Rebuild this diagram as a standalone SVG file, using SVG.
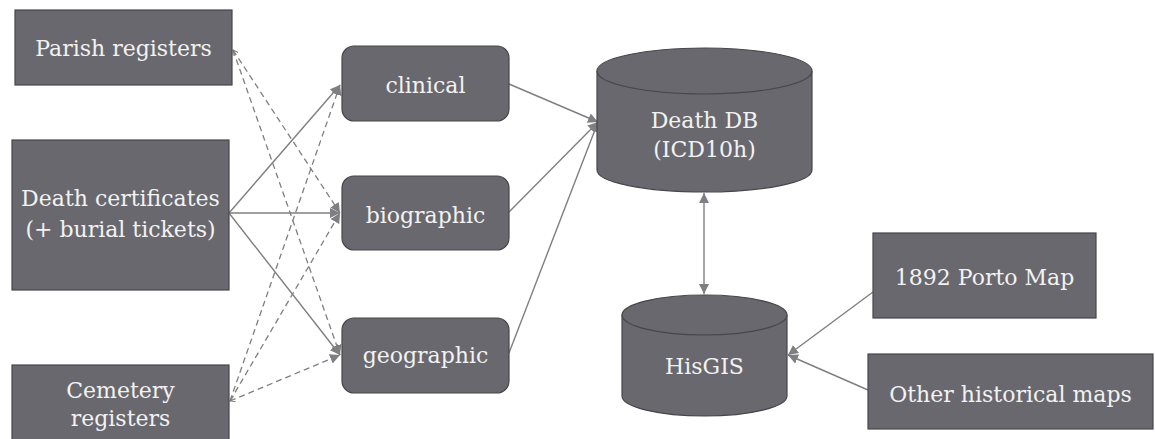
<svg xmlns="http://www.w3.org/2000/svg" width="1155" height="439" viewBox="0 0 1155 439">
<style>
.box{fill:#69686e;stroke:#47464b;stroke-width:1.2}
.t{font-family:"DejaVu Serif","Liberation Serif",serif;font-size:22px;fill:#f2f2f2;text-anchor:middle}
.c{fill:none;stroke:#7f7f83;stroke-width:1.4}
.d{fill:none;stroke:#7f7f83;stroke-width:1.3;stroke-dasharray:6 4}
</style>
<defs>
<marker id="ah" markerUnits="userSpaceOnUse" markerWidth="12" markerHeight="10" refX="10" refY="5" orient="auto-start-reverse">
<path d="M0,0 L10,5 L0,10 Z" fill="#7f7f83"/>
</marker>
<marker id="sm" markerUnits="userSpaceOnUse" markerWidth="6" markerHeight="6" refX="5" refY="3" orient="auto-start-reverse">
<path d="M0,0 L5,3 L0,6" fill="none" stroke="#7f7f83" stroke-width="1"/>
</marker>
</defs>
<rect width="1155" height="439" fill="#ffffff"/>
<g id="connectors">
<line class="c" x1="229" y1="213" x2="340" y2="85" marker-end="url(#ah)"/>
<line class="c" x1="229" y1="213" x2="340" y2="213" marker-end="url(#ah)"/>
<line class="c" x1="229" y1="213" x2="340" y2="355" marker-end="url(#ah)"/>
<line class="d" x1="233" y1="50" x2="340" y2="213" marker-start="url(#sm)" marker-end="url(#ah)"/>
<line class="d" x1="233" y1="50" x2="340" y2="355" marker-end="url(#ah)"/>
<line class="d" x1="230" y1="401" x2="340" y2="85" marker-end="url(#ah)"/>
<line class="d" x1="230" y1="401" x2="340" y2="213" marker-end="url(#ah)"/>
<line class="d" x1="230" y1="401" x2="340" y2="355" marker-start="url(#sm)" marker-end="url(#ah)"/>
<line class="c" x1="509" y1="84" x2="598" y2="122" marker-end="url(#ah)"/>
<line class="c" x1="509" y1="212" x2="598" y2="122" marker-end="url(#ah)"/>
<line class="c" x1="509" y1="353" x2="598" y2="122" marker-end="url(#ah)"/>
<line class="c" x1="704" y1="193" x2="704" y2="294" marker-start="url(#ah)" marker-end="url(#ah)"/>
<line class="c" x1="873" y1="292" x2="788" y2="355" marker-end="url(#ah)"/>
<line class="c" x1="868" y1="390" x2="788" y2="355" marker-end="url(#ah)"/>
</g>
<g id="parish">
<rect class="box" x="15" y="10" width="217" height="75"/>
<text class="t" x="123.5" y="56">Parish registers</text>
</g>
<g id="deathcert">
<rect class="box" x="12" y="140" width="217" height="150"/>
<text class="t" x="120.5" y="206">Death certificates</text>
<text class="t" x="120.5" y="237">(+ burial tickets)</text>
</g>
<g id="cemetery">
<rect class="box" x="12" y="365" width="217" height="80"/>
<text class="t" x="120.5" y="398">Cemetery</text>
<text class="t" x="120.5" y="426">registers</text>
</g>
<g id="clinical">
<rect class="box" x="342" y="46" width="167" height="75" rx="12"/>
<text class="t" x="425.5" y="93">clinical</text>
</g>
<g id="biographic">
<rect class="box" x="342" y="176" width="167" height="74" rx="12"/>
<text class="t" x="425.5" y="223">biographic</text>
</g>
<g id="geographic">
<rect class="box" x="342" y="318" width="167" height="75" rx="12"/>
<text class="t" x="425.5" y="363">geographic</text>
</g>
<g id="deathdb">
<path class="box" d="M597,71 L597,170 A107.5,22 0 0 0 812,170 L812,71 A107.5,23 0 0 0 597,71 Z"/>
<path class="box" d="M597,71 A107.5,23 0 0 0 812,71" fill="none"/>
<text class="t" x="704.5" y="128">Death DB</text>
<text class="t" x="704.5" y="157">(ICD10h)</text>
</g>
<g id="hisgis">
<path class="box" d="M622,315 L622,396 A82.5,20 0 0 0 787,396 L787,315 A82.5,20 0 0 0 622,315 Z"/>
<path class="box" d="M622,315 A82.5,20 0 0 0 787,315" fill="none"/>
<text class="t" x="704.5" y="374">HisGIS</text>
</g>
<g id="portomap">
<rect class="box" x="873" y="233" width="223" height="85"/>
<text class="t" x="984.5" y="285">1892 Porto Map</text>
</g>
<g id="othermaps">
<rect class="box" x="868" y="354" width="285" height="75"/>
<text class="t" x="1010.5" y="402">Other historical maps</text>
</g>
</svg>
